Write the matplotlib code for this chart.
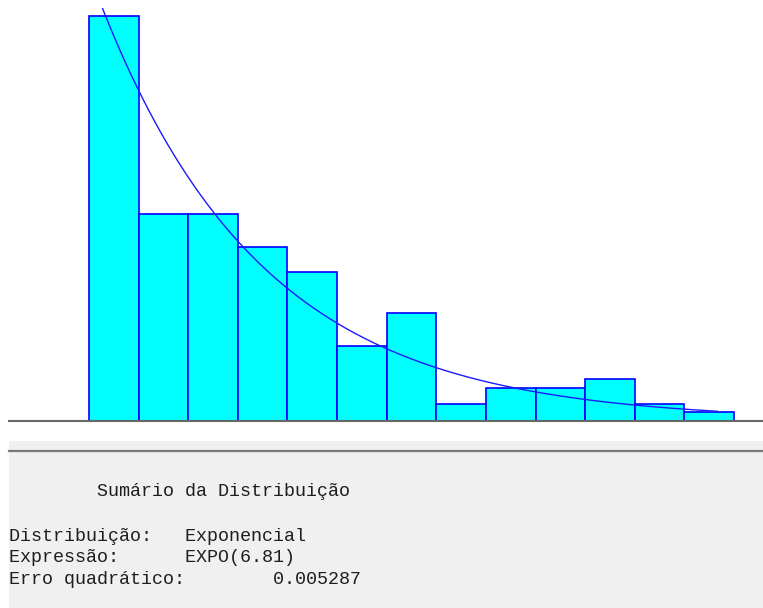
import numpy as np
import matplotlib
matplotlib.use("Agg")
import matplotlib.pyplot as plt
from matplotlib.patches import Rectangle

# histogram of the sample (13 classes between 0 and 27)
bin_start = 0.0
bin_end = 27.0
counts = [49, 25, 25, 21, 18, 9, 13, 2, 4, 4, 5, 2, 1]
expo_mean = 6.81
curve_end = 26.3

summary_title = "Sumário da Distribuição"
summary_rows = [
    ("Distribuição:", "Exponencial"),
    ("Expressão:", "EXPO(6.81)"),
    ("Erro quadrático:", "        0.005287"),
]

W, H = 763, 608
fig = plt.figure(figsize=(W / 100, H / 100), dpi=100)
fig.patch.set_facecolor("white")


def px_box(x0, y0, x1, y1):
    # pixel box (top-left origin) -> figure fraction rect
    return [x0 / W, 1 - y1 / H, (x1 - x0) / W, (y1 - y0) / H]


# summary panel below the chart
fig.patches.append(Rectangle((9 / W, 0), 754 / W, 1 - 441 / H,
                             transform=fig.transFigure, facecolor="#f0f0f0",
                             edgecolor="none", zorder=0))
fig.add_artist(plt.Line2D([9 / W, 1], [1 - 451 / H] * 2, transform=fig.transFigure,
                          color="#7a7a7a", lw=1.6))

ax = fig.add_axes(px_box(9, 8, 763, 420.7))
ax.set_facecolor("white")

n_bins = len(counts)
edges = np.linspace(bin_start, bin_end, n_bins + 1)
width = edges[1] - edges[0]
ax.bar(edges[:-1], counts, width=width, align="edge", color="#00ffff",
       edgecolor="#0000ff", linewidth=1.2, zorder=2)

# fitted exponential, scaled to expected counts per class
total = sum(counts)
xs = np.linspace(0, curve_end, 400)
ys = total * width / expo_mean * np.exp(-xs / expo_mean)
ax.plot(xs, ys, color="#1a1aff", lw=1.0, zorder=3)

px_per_unit = 645 / (bin_end - bin_start)
ax.set_xlim(bin_start - 80 / px_per_unit, bin_start + 674 / px_per_unit)
ax.set_ylim(0, 50)

for side in ["top", "left", "right"]:
    ax.spines[side].set_visible(False)
ax.spines["bottom"].set_color("#666666")
ax.spines["bottom"].set_linewidth(1.5)
ax.spines["bottom"].set_zorder(4)
ax.set_xticks([])
ax.set_yticks([])

mono = dict(family="Liberation Mono", fontsize=13.2, color="#1e1e1e", va="baseline")
fig.text(9 / W, 1 - 496 / H, " " * 8 + summary_title, **mono)
for i, (label, value) in enumerate(summary_rows):
    line = label.ljust(16) + value
    fig.text(9 / W, 1 - (541 + 21.5 * i) / H, line, **mono)

fig.savefig("out.png", dpi=100)
